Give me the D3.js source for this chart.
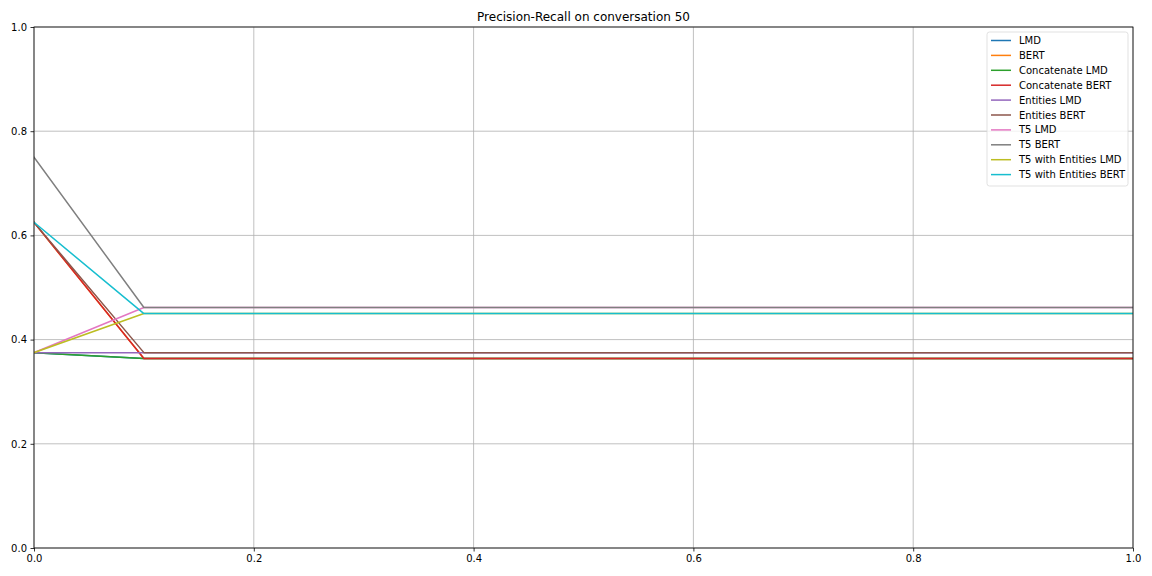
<!DOCTYPE html>
<html><head><meta charset="utf-8">
<script src="https://d3js.org/d3.v7.min.js"></script>
<style>body{margin:0;background:#fff;} svg{display:block;font-family:"DejaVu Sans",sans-serif;}</style>
</head><body>
<script>
const recall = [0.0, 0.1, 1.0];
const seriesNames = ["LMD","BERT","Concatenate LMD","Concatenate BERT","Entities LMD","Entities BERT","T5 LMD","T5 BERT","T5 with Entities LMD","T5 with Entities BERT"];
const lmd = [0.375, 0.3636, 0.3636];
const bert = [0.625, 0.3636, 0.3636];
const concatLmd = [0.375, 0.3636, 0.3636];
const concatBert = [0.625, 0.3636, 0.3636];
const entitiesLmd = [0.375, 0.375, 0.375];
const entitiesBert = [0.625, 0.375, 0.375];
const t5Lmd = [0.375, 0.4615, 0.4615];
const t5Bert = [0.75, 0.4615, 0.4615];
const t5EntLmd = [0.375, 0.45, 0.45];
const t5EntBert = [0.625, 0.45, 0.45];
const seriesValues = [lmd, bert, concatLmd, concatBert, entitiesLmd, entitiesBert, t5Lmd, t5Bert, t5EntLmd, t5EntBert];
const colors = ["#1f77b4","#ff7f0e","#2ca02c","#d62728","#9467bd","#8c564b","#e377c2","#7f7f7f","#bcbd22","#17becf"];
const xTicks = [0, 0.2, 0.4, 0.6, 0.8, 1.0];
const yTicks = [0, 0.2, 0.4, 0.6, 0.8, 1.0];
const title = "Precision-Recall on conversation 50";

const W = 1152, H = 576;
const L = 34, R = 1133, T = 27, B = 548;
const svg = d3.select("body").append("svg").attr("width", W).attr("height", H);
const x = d3.scaleLinear().domain([0, 1]).range([L, R]);
const y = d3.scaleLinear().domain([0, 1]).range([B, T]);

// grid
svg.append("g").selectAll("line").data(xTicks).join("line")
  .attr("x1", d => x(d)).attr("x2", d => x(d)).attr("y1", T).attr("y2", B)
  .attr("stroke", "#b0b0b0").attr("stroke-width", 0.8);
svg.append("g").selectAll("line").data(yTicks).join("line")
  .attr("y1", d => y(d)).attr("y2", d => y(d)).attr("x1", L).attr("x2", R)
  .attr("stroke", "#b0b0b0").attr("stroke-width", 0.8);

// lines
const line = d3.line().x((d, i) => x(recall[i])).y(d => y(d));
const clip = svg.append("clipPath").attr("id", "c").append("rect")
  .attr("x", L).attr("y", T).attr("width", R - L).attr("height", B - T);
svg.append("g").attr("clip-path", "url(#c)").selectAll("path").data(seriesValues).join("path")
  .attr("d", d => line(d)).attr("fill", "none")
  .attr("stroke", (d, i) => colors[i]).attr("stroke-width", 1.5)
  .attr("stroke-linejoin", "round").attr("stroke-linecap", "square");

// axes
const xAxis = d3.axisBottom(x).tickValues(xTicks).tickFormat(d3.format(".1f")).tickSize(3.5).tickPadding(3.5);
const yAxis = d3.axisLeft(y).tickValues(yTicks).tickFormat(d3.format(".1f")).tickSize(3.5).tickPadding(3.5);
const gx = svg.append("g").attr("transform", `translate(0,${B})`).call(xAxis);
const gy = svg.append("g").attr("transform", `translate(${L},0)`).call(yAxis);
[gx, gy].forEach(g => {
  g.select(".domain").remove();
  g.selectAll("text").attr("font-size", 10).attr("font-family", "DejaVu Sans").attr("fill", "#000");
  g.selectAll("line").attr("stroke", "#000").attr("stroke-width", 0.8);
});
// frame
svg.append("rect").attr("x", L).attr("y", T).attr("width", R - L).attr("height", B - T)
  .attr("fill", "none").attr("stroke", "#000").attr("stroke-width", 0.8);

svg.append("text").attr("x", (L + R) / 2).attr("y", T - 6).attr("text-anchor", "middle")
  .attr("font-size", 12).text(title);

// legend
const lgX = 987, lgY = 32, lgW = 141, step = 14.9;
const lg = svg.append("g");
lg.append("rect").attr("x", lgX).attr("y", lgY).attr("width", lgW).attr("height", 10 * step + 5)
  .attr("rx", 2.5).attr("fill", "#fff").attr("fill-opacity", 0.8).attr("stroke", "#d9d9d9").attr("stroke-width", 0.8);
const items = lg.selectAll("g").data(seriesNames).join("g")
  .attr("transform", (d, i) => `translate(${lgX + 4},${lgY + 8.5 + i * step})`);
items.append("line").attr("x1", 0).attr("x2", 20).attr("y1", 0).attr("y2", 0)
  .attr("stroke", (d, i) => colors[i]).attr("stroke-width", 1.5);
items.append("text").attr("x", 28).attr("y", 0).attr("dy", "0.35em").attr("font-size", 10).text(d => d);
</script>
</body></html>
